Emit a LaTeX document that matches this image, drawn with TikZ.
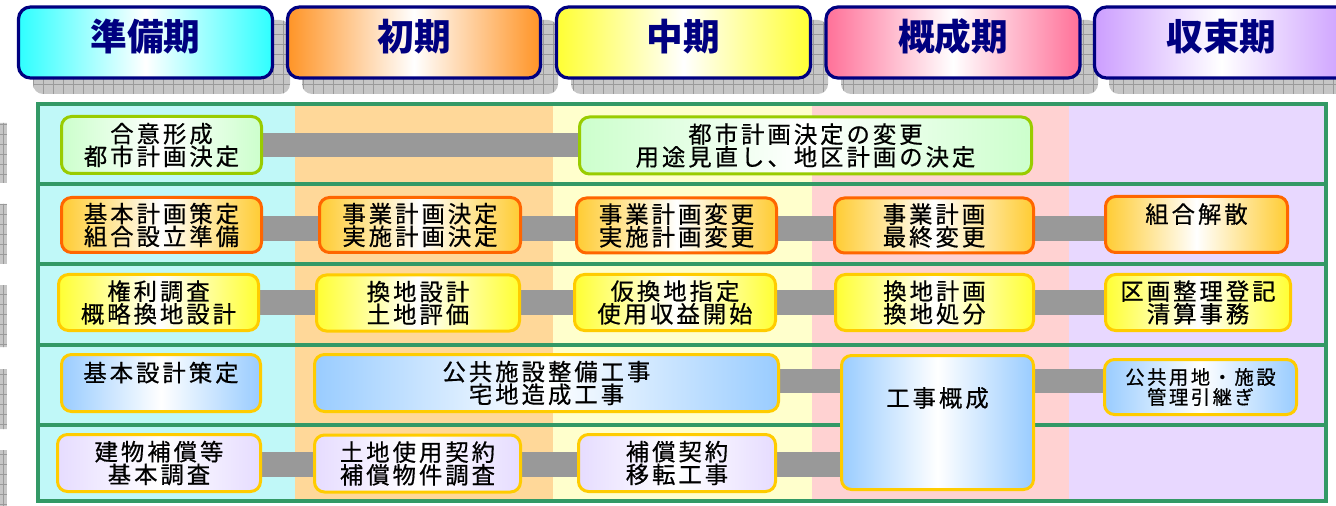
\documentclass[tikz,border=0pt]{standalone}
\usepackage{fontspec}
\newfontfamily\jp[LetterSpace=13,FakeBold=0.6]{Noto Sans CJK JP}
\newfontfamily\jph{Noto Sans CJK JP}
\pgfdeclarelayer{cols}
\pgfdeclarelayer{bars}
\pgfsetlayers{cols,bars,main}
\definecolor{navyc}{HTML}{000080}
\definecolor{hcyan}{HTML}{2EFFFF}
\definecolor{horange}{HTML}{FF9426}
\definecolor{hyellow}{HTML}{FFFF33}
\definecolor{hpink}{HTML}{FF7098}
\definecolor{hlav}{HTML}{CC9EFF}
\definecolor{colcyan}{HTML}{C0F8F8}
\definecolor{colorange}{HTML}{FFD899}
\definecolor{colyellow}{HTML}{FFFFCC}
\definecolor{colpink}{HTML}{FFD2D2}
\definecolor{collav}{HTML}{E8D8FF}
\definecolor{grnline}{HTML}{339966}
\definecolor{bdgreen}{HTML}{99CC00}
\definecolor{bdorange}{HTML}{FF6600}
\definecolor{bdyellow}{HTML}{FFCC00}
\definecolor{fgreen}{HTML}{CCFFCC}
\definecolor{forange}{HTML}{FFCC33}
\definecolor{fyellow}{HTML}{FFFF33}
\definecolor{fblue}{HTML}{99CCFF}
\definecolor{flav}{HTML}{E6DCFF}
\definecolor{barc}{HTML}{999999}
\definecolor{shadowc}{HTML}{C6C6C6}
\definecolor{gridc}{HTML}{9A9A9A}
\begin{document}
\begin{tikzpicture}[x=0.75pt,y=-0.75pt,
  sz/.style 2 args={minimum width={(#1-3)*0.75pt}, minimum height={(#2-3)*0.75pt}},
  box/.style={draw, line width=2.25pt, rounded corners=7.5pt, align=center, inner sep=0pt,
    text=black, font=\jp\fontsize{17.5}{17}\selectfont},
  bxG/.style={box, draw=bdgreen, left color=fgreen, right color=fgreen, middle color=white},
  bxO/.style={box, draw=bdorange, left color=forange, right color=forange, middle color=white},
  bxY/.style={box, draw=bdyellow, left color=fyellow, right color=fyellow, middle color=white},
  bxB/.style={box, draw=bdyellow, left color=fblue, right color=fblue, middle color=white},
  bxL/.style={box, draw=bdyellow, left color=flav, right color=flav, middle color=white},
  txt/.style={inner sep=0pt, align=center, text=black, font=\jp\fontsize{17.5}{17}\selectfont},
  hdr/.style={draw=navyc, line width=2.4pt, rounded corners=9pt, minimum height=71*0.75pt, inner sep=0pt},
  htxt/.style={inner sep=0pt, text=navyc, font=\jph\bfseries\fontsize{27.5}{30}\selectfont},
  bar/.style={draw=barc, line width=18.5pt},
  frameline/.style={draw=grnline, line width=3pt},
  gline/.style={draw=gridc, line width=0.5pt}
]
\useasboundingbox (0,0) rectangle (1336,506);
\clip (0,0) rectangle (1336,506);

% header shadows
\begin{scope}
  \clip[rounded corners=7.5pt] (33,20) rectangle (290,94) (302,20) rectangle (558,94)
    (571,20) rectangle (828,94) (841,20) rectangle (1098,94) (1109,20) rectangle (1366,94);
  \fill[shadowc] (0,0) rectangle (1400,100);
  \foreach \x in {3,13,...,1403} \draw[gline] (\x,0) -- (\x,100);
  \foreach \y in {24,34,...,94} \draw[gline] (0,\y) -- (1400,\y);
\end{scope}
% left stubs
\begin{scope}
  \clip (0,123) rectangle (7,183) (0,204) rectangle (7,264) (0,285) rectangle (7,347)
    (0,369) rectangle (7,429) (0,450) rectangle (7,506);
  \fill[shadowc] (0,100) rectangle (7,506);
  \draw[gline] (3,100) -- (3,506);
  \foreach \y in {104,114,...,504} \draw[gline] (0,\y) -- (7,\y);
\end{scope}

% header boxes
\node[hdr, minimum width=254*0.75pt, left color=hcyan, right color=hcyan, middle color=white] (h1) at (145.5,42.5) {};
\node[hdr, minimum width=253*0.75pt, left color=horange, right color=horange, middle color=white] (h2) at (414,42.5) {};
\node[hdr, minimum width=254*0.75pt, left color=hyellow, right color=hyellow, middle color=white] (h3) at (683.5,42.5) {};
\node[hdr, minimum width=254*0.75pt, left color=hpink, right color=hpink, middle color=white] (h4) at (953,42.5) {};
\node[hdr, minimum width=254*0.75pt, left color=hlav, right color=hlav, middle color=white] (h5) at (1221.5,42.5) {};
\node[htxt] (h1t) at ([yshift=4.5pt]h1.center) {準備期};
\node[htxt] (h2t) at ([yshift=4.5pt]h2.center) {初期};
\node[htxt] (h3t) at ([yshift=4.5pt]h3.center) {中期};
\node[htxt] (h4t) at ([yshift=4.5pt]h4.center) {概成期};
\node[htxt] (h5t) at ([yshift=4.5pt]h5.center) {収束期};

% columns and frame
\begin{pgfonlayer}{cols}
  \fill[colcyan] (40,106) rectangle (295,500);
  \fill[colorange] (295,106) rectangle (553,500);
  \fill[colyellow] (553,106) rectangle (812,500);
  \fill[colpink] (812,106) rectangle (1069,500);
  \fill[collav] (1069,106) rectangle (1325,500);
  \draw[frameline] (37.5,104.5) rectangle (1326,501);
  \foreach \y in {184.5,264.5,344.5,424.5} \draw[frameline] (37.5,\y) -- (1326,\y);
\end{pgfonlayer}

% row 1
\node[bxG, sz={203}{60}] (a1) at (161.5,145) {合意形成\\都市計画決定};
\node[bxG, sz={455}{60}] (a2) at (805.5,145.5) {都市計画決定の変更\\用途見直し、地区計画の決定};
% row 2
\node[bxO, sz={203}{58}] (b1) at (161.5,225) {基本計画策定\\組合設立準備};
\node[bxO, sz={204}{58}] (b2) at (420,225) {事業計画決定\\実施計画決定};
\node[bxO, sz={203}{58}] (b3) at (676.5,225.5) {事業計画変更\\実施計画変更};
\node[bxO, sz={202}{58}] (b4) at (934,225.5) {事業計画\\最終変更};
\node[bxO, sz={185}{59}] (b5) at (1196.5,224.5) {組合解散\\\mbox{}};
% row 3
\node[bxY, sz={203}{59}] (c1) at (158.5,302.5) {権利調査\\概略換地設計};
\node[bxY, sz={206}{59}] (c2) at (418,303) {換地設計\\土地評価};
\node[bxY, sz={204}{59}] (c3) at (675,302.5) {仮換地指定\\使用収益開始};
\node[bxY, sz={201}{59}] (c4) at (934.5,302.5) {換地計画\\換地処分};
\node[bxY, sz={188}{59}] (c5) at (1198,302.5) {区画整理登記\\清算事務};
% row 4
\node[bxB, sz={202}{60}] (d1) at (161,383) {基本設計策定\\\mbox{}};
\node[bxB, sz={467}{60}] (d2) at (546.5,383) {公共施設整備工事\\宅地造成工事};
\node[bxB, sz={195}{137}] (d3) at (937.5,422.5) {};
\node[txt] (d3t) at ([yshift=18.4pt]d3.center) {工事概成};
\node[bxB, sz={195}{58}, font=\jp\fontsize{14.5}{15}\selectfont] (d4) at (1200.5,387) {公共用地・施設\\管理引継ぎ};
% row 5
\node[bxL, sz={206}{60}] (e1) at (159,463) {建物補償等\\基本調査};
\node[bxL, sz={209}{60}] (e2) at (417.5,463.5) {土地使用契約\\補償物件調査};
\node[bxL, sz={200}{60}] (e3) at (677,463) {補償契約\\移転工事};

% connectors
\begin{pgfonlayer}{bars}
  \draw[bar] (a1.east |- 0,145) -- (a2.west |- 0,145);
  \draw[bar] (b1.east |- 0,228.5) -- (b2.west |- 0,228.5);
  \draw[bar] (b2.east |- 0,228.5) -- (b3.west |- 0,228.5);
  \draw[bar] (b3.east |- 0,228.5) -- (b4.west |- 0,228.5);
  \draw[bar] (b4.east |- 0,228.5) -- (b5.west |- 0,228.5);
  \draw[bar] (c1.east |- 0,302.5) -- (c2.west |- 0,302.5);
  \draw[bar] (c2.east |- 0,302.5) -- (c3.west |- 0,302.5);
  \draw[bar] (c3.east |- 0,302.5) -- (c4.west |- 0,302.5);
  \draw[bar] (c4.east |- 0,302.5) -- (c5.west |- 0,302.5);
  \draw[bar] (d2.east |- 0,381) -- (d3.west |- 0,381);
  \draw[bar] (d3.east |- 0,381) -- (d4.west |- 0,381);
  \draw[bar] (e1.east |- 0,464.5) -- (e2.west |- 0,464.5);
  \draw[bar] (e2.east |- 0,464.5) -- (e3.west |- 0,464.5);
  \draw[bar] (e3.east |- 0,464.5) -- (d3.west |- 0,464.5);
\end{pgfonlayer}
\end{tikzpicture}
\end{document}
